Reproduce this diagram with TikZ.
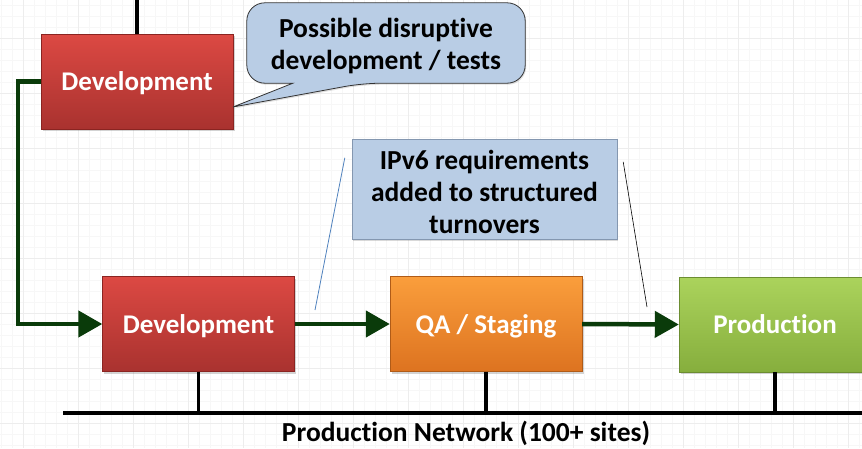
\documentclass[tikz,border=0pt]{standalone}
\usepackage{fontspec}
\setmainfont{Carlito}[Ligatures={NoCommon,NoContextual}]
\usetikzlibrary{arrows.meta, positioning, calc, shadows}

\definecolor{devtop}{HTML}{DC4943}
\definecolor{devbot}{HTML}{A9322F}
\definecolor{devline}{HTML}{8A2421}
\definecolor{qatop}{HTML}{FA9E3C}
\definecolor{qabot}{HTML}{DD7320}
\definecolor{qaline}{HTML}{B05B17}
\definecolor{prodtop}{HTML}{ABD35C}
\definecolor{prodbot}{HTML}{86AE3D}
\definecolor{prodline}{HTML}{6C8D31}
\definecolor{flowgreen}{HTML}{0A3B0A}
\definecolor{noteblue}{HTML}{B9CDE5}
\definecolor{noteline}{HTML}{8497B0}
\definecolor{leadblue}{HTML}{4F81BD}

\tikzset{
    stage/.style={rectangle, minimum width=192pt, minimum height=95pt,
        text=white, font=\bfseries\fontsize{27}{31}\selectfont, text depth=0pt,
        drop shadow={shadow xshift=1.5pt, shadow yshift=-2pt, opacity=0.35}},
    flow/.style={line width=4.5pt, flowgreen, -{Triangle[length=24pt, width=26pt]}},
    wire/.style={line width=3.2pt, black},
    notetext/.style={font=\bfseries\fontsize{27.5}{32}\selectfont, align=center}
}

\begin{document}
\begin{tikzpicture}[x=1pt, y=-1pt]
    \useasboundingbox (0,0) rectangle (862,448);
    \clip (0,0) rectangle (862,448);

    % background grid
    \foreach \gx in {1,12,...,862} \draw[gray!6, line width=0.6pt] (\gx,0) -- (\gx,448);
    \foreach \gy in {5,16,...,448} \draw[gray!6, line width=0.6pt] (0,\gy) -- (862,\gy);
    \foreach \gx in {23,78,...,862} \draw[gray!14, line width=1pt] (\gx,0) -- (\gx,448);
    \foreach \gy in {38,93,...,448} \draw[gray!14, line width=1pt] (0,\gy) -- (862,\gy);

    % stages
    \node[stage, draw=devline, top color=devtop, bottom color=devbot] (devtop) at (137,81.5) {Development};
    \node[stage, draw=devline, top color=devtop, bottom color=devbot] (devmain) at (198.5,324) {Development};
    \node[stage, draw=qaline, top color=qatop, bottom color=qabot] (qa) at (486,324) {QA / Staging};
    \node[stage, draw=prodline, top color=prodtop, bottom color=prodbot] (prod) at (775,324.5) {Produc\kern0pt tion};

    % flow
    \coordinate (turn1) at (18,0 |- devtop.west);
    \coordinate (turn2) at (18,0 |- devmain.west);
    \draw[flow] (devtop.west) -- (turn1) -- (turn2) -- (devmain.west);
    \draw[flow] (devmain.east) -- (qa.west);
    \draw[flow] (qa.east) -- (prod.west);

    % production network
    \coordinate (topin) at (137,0);
    \draw[wire] (topin) -- (devtop.north);
    \coordinate (busl) at (63,413);
    \coordinate (busr) at (862,413);
    \draw[wire] (busl) -- (busr);
    \foreach \st in {devmain, qa, prod}
        \draw[wire] (\st.south) -- (\st.south |- busl);
    \node[font=\bfseries\fontsize{27.5}{30}\selectfont] (netlabel) at (466,433) {Produc\kern0pt tion Network (100+ sites)};

    % speech bubble
    \node[notetext, minimum width=278pt, minimum height=80pt] (bubble) at (386,43) {};
    \coordinate (bubtip) at (233,107);
    \filldraw[fill=noteblue, draw=black!80, line width=0.8pt, rounded corners=18pt,
        drop shadow={shadow xshift=1pt, shadow yshift=-1.5pt, opacity=0.25}]
        ($(bubble.south west)+(46,0)$) -- (bubble.south west) -- (bubble.north west)
        -- (bubble.north east) -- (bubble.south east) -- ($(bubble.south west)+(116,0)$)
        [sharp corners] -- (bubtip) -- cycle;
    \node[notetext] (bubtext) at ([yshift=-3pt]bubble.center) {Possible disrup\kern0pt tive\\development / tests};

    % requirements note
    \node[notetext, draw=noteline, fill=noteblue, minimum width=265pt, minimum height=100pt,
        inner sep=2pt, drop shadow={shadow xshift=1pt, shadow yshift=-2pt, opacity=0.3}]
        (req) at (484.5,189) {};
    \node[notetext] (reqtext) at ([yshift=-3pt]req.center) {IPv6 requirements\\added to structured\\turnovers};
    \coordinate (leadl) at (315,310);
    \coordinate (leadr) at (647,307);
    \draw[leadblue, line width=0.8pt] ($(req.north west)+(-7,19)$) -- (leadl);
    \draw[black, line width=0.6pt] ($(req.north east)+(6,23)$) -- (leadr);
\end{tikzpicture}
\end{document}
